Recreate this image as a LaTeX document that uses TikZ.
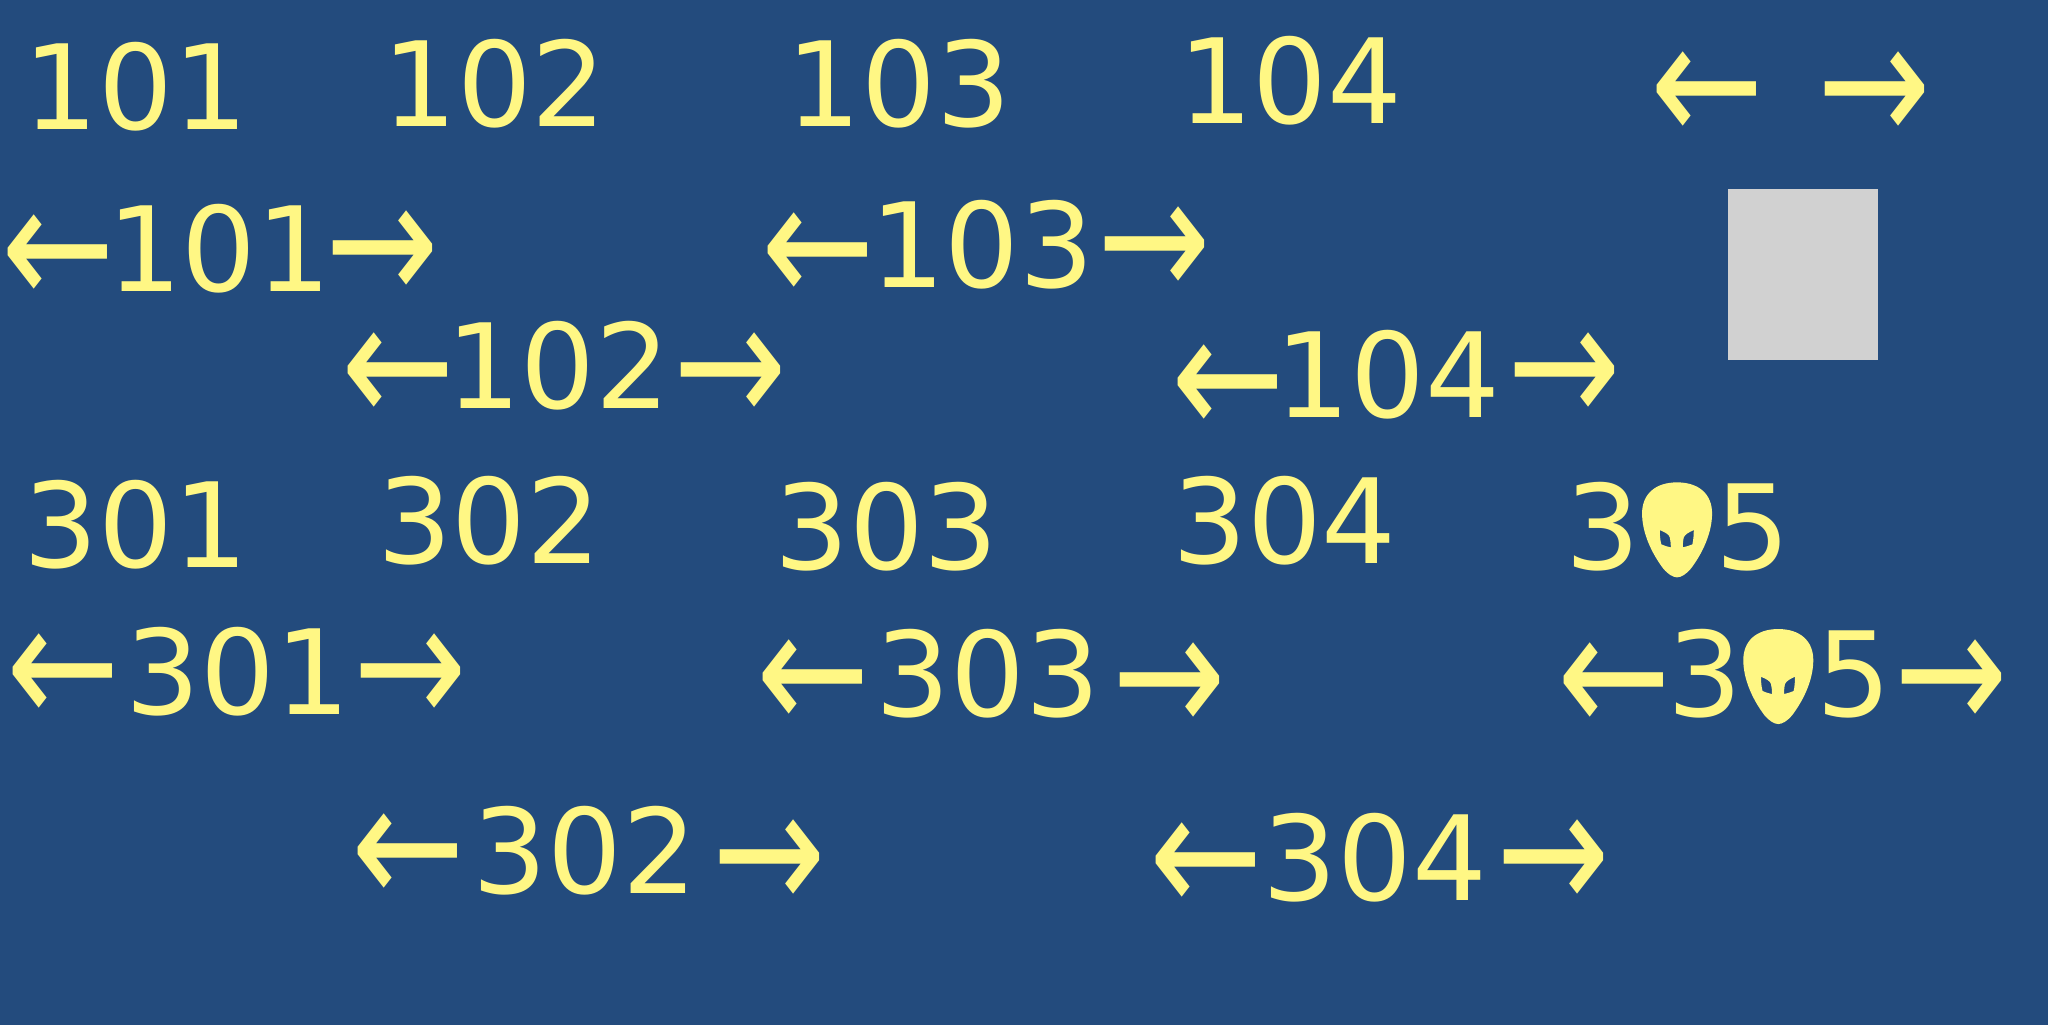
\documentclass[tikz,border=0pt]{standalone}
\usepackage{fontspec}
\setmainfont{DejaVu Sans}
\newfontfamily\arrowfont[FakeStretch=0.78]{DejaVu Sans}
\definecolor{bgc}{HTML}{234B7D}
\definecolor{fgc}{HTML}{FFF784}
\definecolor{boxc}{HTML}{D1D1D1}
\tikzset{
  num/.style={anchor=base,inner sep=0pt,outer sep=0pt,text=fgc,xshift=0.65pt,font=\fontsize{58.8}{58.8}\selectfont},
  arw/.style={anchor=base,inner sep=0pt,outer sep=0pt,text=fgc,yshift=-28pt,font=\arrowfont\fontsize{87}{87}\selectfont},
  alien/.pic={
    \fill[fgc,even odd rule] (0,0) .. controls (22,0) and (35,12) .. (35,31)
      .. controls (35,50) and (26,70) .. (14,86)
      .. controls (9,92) and (4,95) .. (0,95)
      .. controls (-4,95) and (-9,92) .. (-14,86)
      .. controls (-26,70) and (-35,50) .. (-35,31)
      .. controls (-35,12) and (-22,0) .. (0,0) -- cycle
      (-17.3,47.7) .. controls (-12,50) and (-8,52) .. (-7.3,55) .. controls (-6.5,58) and (-6.3,62) .. (-6.3,65) .. controls (-10,64.5) and (-13,63) .. (-15.7,62) .. controls (-17,58) and (-17.3,52) .. (-17.3,47.7) -- cycle
      (16.7,47.7) .. controls (11.5,50) and (8,52) .. (6.7,55) .. controls (6,58) and (5.7,62) .. (5.7,65) .. controls (9,64.5) and (12.5,63) .. (15.3,62) .. controls (16.3,58) and (16.7,52) .. (16.7,47.7) -- cycle;
  },
  u/.style={scale=0.7656}
}
\begin{document}
\begin{tikzpicture}[x=0.65306pt,y=-0.65306pt]
\useasboundingbox (0,0) rectangle (1568,784);
\fill[bgc] (-5,-5) rectangle (1573,789);
% top row
\node[num] (a1) at (103,98.8) {101};
\node[num] (a2) at (377.6,96.5) {102};
\node[num] (a3) at (687.1,96.5) {103};
\node[num] (a4) at (986.9,94.2) {104};
\node[arw] (al) at (1307,66.9) {←};
\node[arw] (ar) at (1434.75,66.9) {→};
% 101
\node[arw] (b1l) at (44.5,191.4) {←};
\node[num] (b1) at (167,222.8) {101};
\node[arw] (b1r) at (293,188.6) {→};
% 103
\node[arw] (b3l) at (626.5,189.9) {←};
\node[num] (b3) at (751.1,220.3) {103};
\node[arw] (b3r) at (883.5,186) {→};
% 102
\node[arw] (b2l) at (305,282) {←};
\node[num] (b2) at (426.4,312.4) {102};
\node[arw] (b2r) at (559.5,282.5) {→};
% 104
\node[arw] (b4l) at (940.2,291) {←};
\node[num] (b4) at (1061.85,319.3) {104};
\node[arw] (b4r) at (1198,282.5) {→};
% grey box
\fill[boxc] (1323,144.7) rectangle (1438,275.6);
% 300 row
\node[num] (c1) at (103.3,434.1) {301};
\node[num] (c2) at (373.65,431.8) {302};
\node[num] (c3) at (677.7,436.2) {303};
\node[num] (c4) at (982.4,431.8) {304};
\node[num] (c5) at (1283.75,436.2) {3\phantom{0}5};
\pic[u] at (1284,369.3) {alien};
% 301
\node[arw] (d1l) at (48.5,512.5) {←};
\node[num] (d1) at (181,546.7) {301};
\node[arw] (d1r) at (314,512.2) {→};
% 303
\node[arw] (d3l) at (622.75,517) {←};
\node[num] (d3) at (755.5,548.7) {303};
\node[arw] (d3r) at (895,519.1) {→};
% 305
\node[arw] (d5l) at (1236,519.1) {←};
\node[num] (d5) at (1361.5,548.7) {3\phantom{0}5};
\pic[u] at (1361.5,481.6) {alien};
\node[arw] (d5r) at (1494.25,517) {→};
% 302
\node[arw] (e2l) at (313,650.3) {←};
\node[num] (e2) at (446.9,684.2) {302};
\node[arw] (e2r) at (589,654.6) {→};
% 304
\node[arw] (e4l) at (923.9,657.2) {←};
\node[num] (e4) at (1051.9,689.1) {304};
\node[arw] (e4r) at (1189,654.6) {→};
\end{tikzpicture}
\end{document}
